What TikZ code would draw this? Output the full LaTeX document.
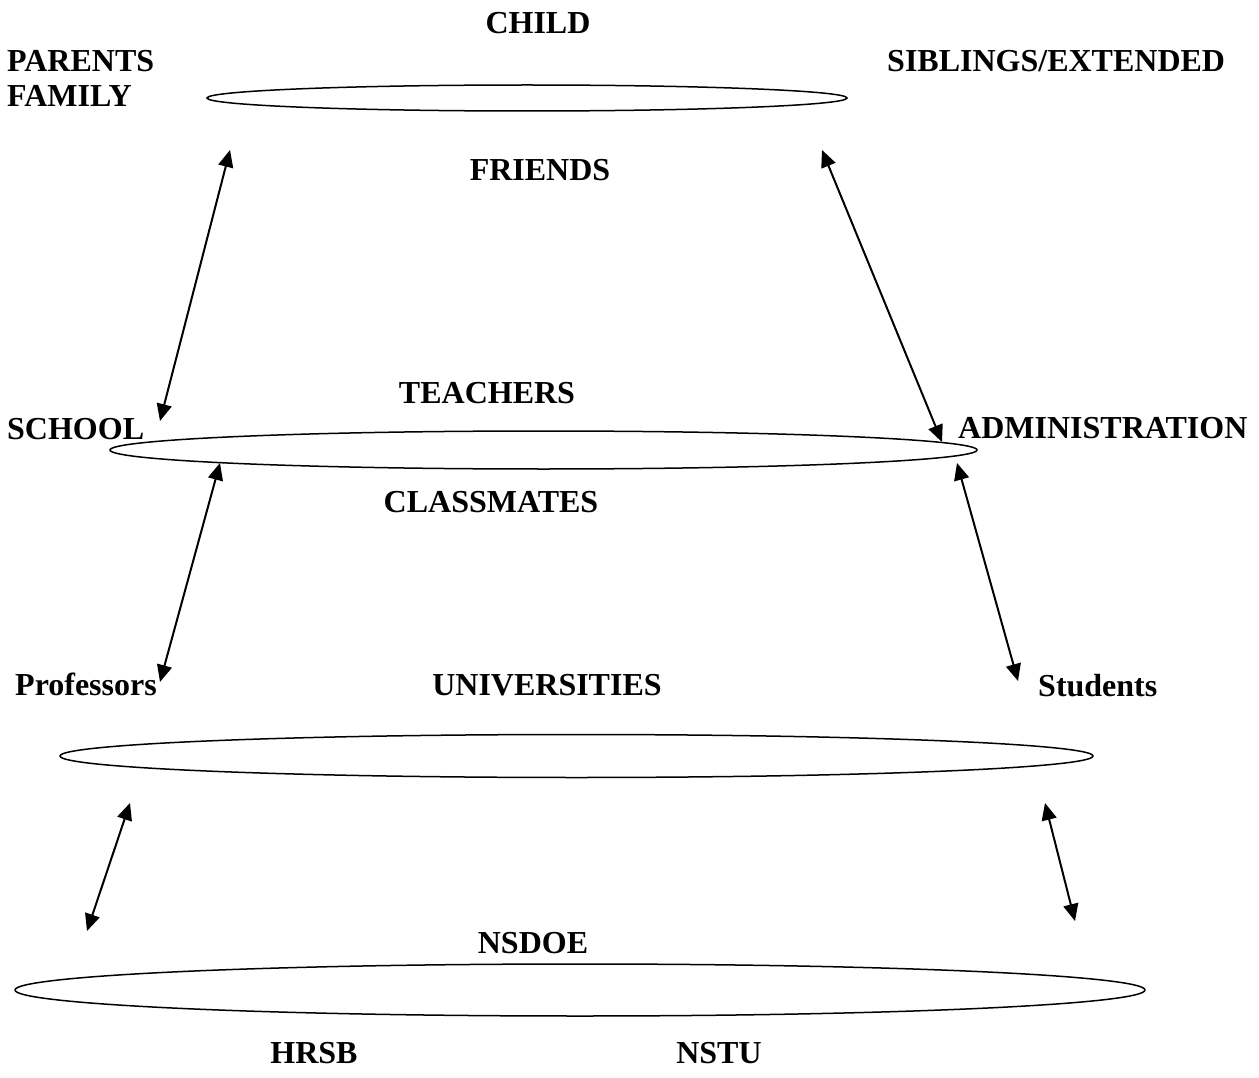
\documentclass[tikz,border=0pt]{standalone}
\usepackage{fontspec}
\setmainfont{Liberation Serif}
\usetikzlibrary{shapes.geometric,arrows.meta}
\begin{document}
\begin{tikzpicture}[x=1pt,y=-1pt,
  lbl/.style={font=\fontsize{32}{36}\selectfont\bfseries,inner sep=0pt},
  lblw/.style={lbl,anchor=base west},
  lblc/.style={lbl,anchor=base},
  ring/.style={draw,ellipse,line width=1.5pt,inner sep=0pt},
  link/.style={line width=2pt,{Triangle[length=17pt,width=15pt]}-{Triangle[length=17pt,width=15pt]}}]
\useasboundingbox (0,0) rectangle (1259,1078);

% level 1: child and family
\node[ring,minimum width=640pt,minimum height=26pt] (child) at (527,98) {};
\node[lblc] (tchild) at (538,34) {CHILD};
\node[lblw] (tparents) at (7,72) {PARENTS};
\node[lblw] (tfamily) at (7,107) {FAMILY};
\node[lblw] (tsiblings) at (887,72) {SIBLINGS/EXTENDED};
\node[lblc] (tfriends) at (540,181) {FRIENDS};

% level 2: school
\node[ring,minimum width=867pt,minimum height=38pt] (school) at (543.5,450) {};
\node[lblc] (tteachers) at (487,403) {TEACHERS};
\node[lblw] (tschool) at (7,439) {SCHOOL};
\node[lblw] (tadmin) at (958,438) {ADMINISTRATION};
\node[lblc] (tclass) at (491,512) {CLASSMATES};

% level 3: universities
\node[ring,minimum width=1033pt,minimum height=43pt] (univ) at (576.5,756) {};
\node[lblw] (tprof) at (15,695) {Professors};
\node[lblc] (tuniv) at (547,695) {UNIVERSITIES};
\node[lblw] (tstud) at (1038,696) {Students};

% level 4: province
\node[ring,minimum width=1130pt,minimum height=52pt] (prov) at (580,990) {};
\node[lblc] (tnsdoe) at (533,953) {NSDOE};
\node[lblc] (thrsb) at (314,1063) {HRSB};
\node[lblc] (tnstu) at (719,1063) {NSTU};

% arrow ends
\coordinate (a1) at (230,150);  \coordinate (b1) at (160,421);
\coordinate (a2) at (822,150);  \coordinate (b2) at (942,442);
\coordinate (a3) at (220,463);  \coordinate (b3) at (160,682);
\coordinate (a4) at (957,463);  \coordinate (b4) at (1018,681);
\coordinate (a5) at (130,803);  \coordinate (b5) at (87,931);
\coordinate (a6) at (1045,803); \coordinate (b6) at (1075,921);

\draw[link] (a1) -- (b1);
\draw[link] (a2) -- (b2);
\draw[link] (a3) -- (b3);
\draw[link] (a4) -- (b4);
\draw[link] (a5) -- (b5);
\draw[link] (a6) -- (b6);
\end{tikzpicture}
\end{document}
